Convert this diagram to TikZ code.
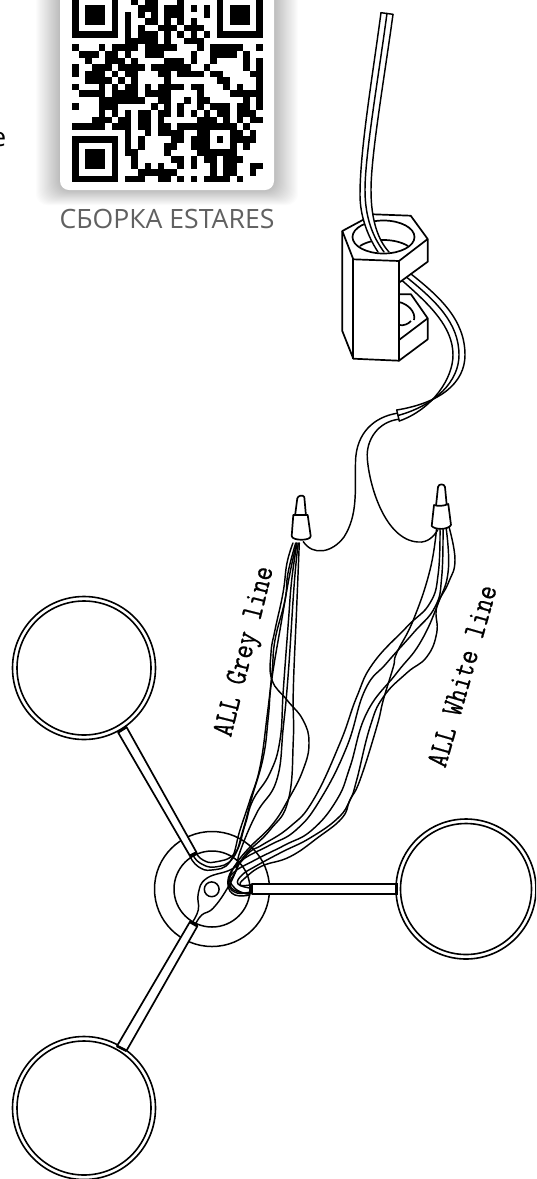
\documentclass[tikz,border=0pt]{standalone}
\usepackage{fontspec}
\setmainfont{Open Sans}
\newfontfamily\notefont[FakeStretch=0.84,FakeBold=0.6]{Latin Modern Mono}
\usetikzlibrary{calc}
\tikzset{
  wire/.style={line width=1.45pt,line join=round,line cap=round},
  body/.style={line width=1.7pt,line join=round},
  lamp/.style={line width=1.6pt,fill=white},
  note/.style={font=\notefont\fontsize{31}{31}\selectfont,inner sep=0pt}
}
\newcommand{\qrfinder}[2]{%
  \fill (72.3+6.57*#1,-8.2+6.57*#2) rectangle ++(46,46);
  \fill[white] (72.3+6.57*#1+6.57,-8.2+6.57*#2+6.57) rectangle ++(32.85,32.85);
  \fill (72.3+6.57*#1+13.14,-8.2+6.57*#2+13.14) rectangle ++(19.71,19.71);}
\newcommand{\wirepath}[1]{\draw[wire] plot[smooth,tension=.75] coordinates {#1};}
\begin{document}
\begin{tikzpicture}[x=1pt,y=-1pt]
\useasboundingbox (0,0) rectangle (536,1179);
\clip (0,0) rectangle (536,1179);
\fill[white] (0,0) rectangle (536,1179);
% card shadow
\foreach \i in {1,...,22}{
  \fill[black,opacity=.013,rounded corners=12pt] (60-\i*1.1,-20) rectangle (274+\i*1.1,190+\i*.7);
}
\fill[white,rounded corners=9pt] (60,-20) rectangle (274,190);
% QR
\qrfinder{0}{0}\qrfinder{22}{0}\qrfinder{0}{22}
\foreach \r/\cols in {
1/{9,11,12,16},
2/{10,11,12,14,15,16,18,20},
3/{8,10,12,14,15,16,20},
4/{8,11,12,14,16,18},
5/{8,10,13,14,15,17,18,19},
6/{8,10,11,12,14,16,18,20},
7/{8,9,10,11,12,14,17,18,19},
8/{0,4,6,7,8,9,11,12,13,14,15,19,21,22,23,24,25,28},
9/{1,2,3,5,6,8,11,12,13,18,21,22,23,24,26},
10/{2,5,6,7,9,14,15,16,18,21,26,28},
11/{0,3,4,5,7,8,9,10,12,13,14,15,16,17,20,26,28},
12/{0,2,3,4,6,8,9,13,14,16,17,18,19,21,22,27,28},
13/{2,3,4,5,7,9,14,22,23,28},
14/{0,4,6,8,9,11,13,14,15,16,18,19,23,25,28},
15/{1,2,3,4,6,7,8,9,11,12,13,14,19,24,25,26,27,28},
16/{4,5,6,7,8,9,10,13,14,17,19,20,26,28},
17/{0,4,5,6,12,14,16,19,21,22,23,25,26,28},
18/{4,6,8,10,11,13,14,16,18,20,22,23,25,26,27},
19/{3,4,5,7,8,10,11,13,19,20,21,23,25,27,28},
20/{0,1,2,3,4,6,7,8,10,11,13,14,16,17,18,19,20,21,22,23,24,26},
21/{8,11,13,14,15,16,19,20,24,25,27},
22/{8,10,15,16,18,19,20,22,24,25,26,27},
23/{8,10,14,15,18,19,20,24,26},
24/{8,9,14,19,20,21,22,23,24},
25/{9,15,16,18,20,21,23,24,25},
26/{9,11,13,16,18,21,23,24,27,28},
27/{10,11,12,13,14,15,21,23,24,27},
28/{8,9,10,13,14,16,18,20,21,22,23,25}}{
  \foreach \c in \cols {
    \fill (72.3+6.57*\c,-8.2+6.57*\r) rectangle ++(6.62,6.62);
  }
}
\node[anchor=center,text=black!62,inner sep=0pt,font=\fontsize{26.6}{28}\selectfont] (qrcaption) at (167,219) {СБОРКА ESTARES};
\node[anchor=base east,inner sep=0pt,font=\fontsize{26}{26}\selectfont] (cutword) at (6.5,146) {e};

% lamps and arms
\draw[lamp] (84,668) circle (71.5);
\draw[line width=1.6pt] (84,668) circle (67);
\draw[lamp] (84,1108) circle (71.5);
\draw[line width=1.6pt] (84,1108) circle (67);
\draw[lamp] (466,889) circle (70);
\draw[line width=1.6pt] (466,889) circle (65.5);
% hub
\draw[line width=1.5pt] (212,889) circle (57.5);
\draw[line width=1.5pt] (212,889) circle (38);
\draw[line width=1.5pt] (211.7,889.3) circle (7.4);
% arm tubes
\draw[body,fill=white] (118,732.3) -- (190,856) -- (196.7,852.7) -- (126.5,727) -- cycle;
\draw[body,fill=white] (117,1046) -- (190,921.7) -- (197.5,926) -- (126.5,1050.7) -- cycle;
\draw[body,fill=white] (251.7,884.3) -- (396,884.3) -- (396,894) -- (251.7,894) -- cycle;
\draw[line width=3pt] (190,856) -- (196.7,852.7);
\draw[line width=3pt] (190,921.7) -- (197.5,926);
\draw[line width=3pt] (251.7,884.3) -- (251.7,894);
\draw[line width=2.6pt] (396.5,883) -- (396.5,895);
\draw[line width=2.6pt] (118,732.3) -- (126.5,727);
\draw[line width=2.6pt] (117,1046) -- (126.5,1050.7);

% grey bundle
\wirepath{(293,543)(287,563)(283,593)(275,630)(271,653)(272,680)(287,700)(303,720)(309,743)(303,770)(288,800)(272,825)(250,847)(236.7,863)(230,877)(232,885)(240,891.7)(250,894)}
\wirepath{(295.7,543)(288,573)(285,600)(275,640)(272,673)(267,717)(260,767)(250,800)(240,830)(230,861.7)(211.7,870)(198.3,866.7)(190,856.7)}
\wirepath{(296.7,543)(290,573)(281.7,620)(271.7,680)(268.3,717)(263.3,757)(251.7,798)(243,830)(233,858)(215,867)(200,863)(193,855)}
\wirepath{(297,543)(291.7,580)(288.3,623)(283.3,690)(280,740)(270,773)(253,800)(245,825)(235,853)(215,862)(203,860)(196,853)}
\wirepath{(298.3,543)(294.3,583)(288.3,673)(283.3,727)(276.7,780)(256.7,813)(240,851.7)(236.7,868)(228.3,886.7)(213.3,908)(201.7,915)(195,925)}
\wirepath{(299.3,543)(296.7,607)(293.3,690)(293.3,740)(288.3,800)(270,830)(245,855)(235,873)(230,882)(234,890)(248,894)}
% white bundle
\wirepath{(436.7,527)(430,570)(413.3,620)(396.7,653)(393.3,667)(383.3,700)(376.7,727)(360,780)(350,800)(342,818)(318,837.5)(290,856.7)(262,866)(245,878)(240,885)(250,885)}
\wirepath{(440,527)(438.3,573)(430,603)(406.7,627)(373.3,663)(356.7,697)(340,743)(313.3,800)(290,826.7)(262,845)(250,851.7)(233.3,868.3)(206.7,878.3)(198.3,893.3)(198.3,910)(191.7,923.3)}
\wirepath{(443,527)(441.7,577)(435,607)(413.3,633)(386.7,663)(365,690)(346.7,747)(320,800)(296,830)(270,845)(245,858)(232,870)(228,885)(235,895)(250,895)}
\wirepath{(446,527)(448.3,570)(438.3,603)(420,643)(396.7,673)(366.7,713)(350,767)(336.7,800)(312,830)(285,845)(255,860)(233,873)(229,885)(237,893)(250,892)}
\wirepath{(449,527)(455,560)(448.3,583)(436.7,607)(436.7,633)(426.7,657)(406.7,673)(383.3,697)(370,727)(356.7,780)(350,800)(338,818)(310,838)(282,852)(256,866)(242,875)(238,884)(250,888)}

% wires from the sleeve to the nuts
\draw[wire] (396.7,413.3) .. controls (375,417) and (356,432) .. (355.5,462) .. controls (355,490) and (358,515) .. (344,537) .. controls (332,553) and (313,556) .. (303.3,541.7);
\draw[wire] (398.3,419.3) .. controls (378,422) and (366,440) .. (367.3,458) .. controls (369,485) and (385,540) .. (418,542) .. controls (428,543) and (434,536) .. (437.7,530);
% nuts
\draw[body,fill=white] (295,516) -- (297.3,498.3) .. controls (298,495.5) and (303,494.5) .. (304.3,497) -- (306,516);
\draw[body,fill=white] (293.3,515) -- (307.7,515) -- (310.7,536) .. controls (311,541) and (292,541) .. (291.7,536) -- cycle;
\draw[body,fill=white] (436,506) -- (438,487) .. controls (438.5,483.5) and (444.5,483.5) .. (445,487) -- (446.7,505);
\draw[body,fill=white] (434,505) .. controls (438,506.5) and (444,506) .. (448.3,504) -- (451,525) .. controls (448,530) and (435,530) .. (431.7,526) -- cycle;
% sleeve and cable
\draw[wire] (396.7,410) -- (399.3,421);
\draw[wire] (411,274) .. controls (440,297) and (465,320) .. (465,355) .. controls (465,383) and (440,403) .. (396.7,410);
\draw[wire] (406.7,277.3) .. controls (436,301) and (459,323) .. (459,355) .. controls (459,381) and (436,405) .. (398,415.5);
\draw[wire] (402.3,280.7) .. controls (430,305) and (453,327) .. (453,355) .. controls (453,378) and (433,409) .. (399.3,421);

% connector block
\draw[body,fill=white] (342.3,231) -- (373.3,214.3) -- (410.7,215.7) -- (427.7,239) -- (427.7,261.7) -- (399,282.7) -- (399,360.7) -- (353.3,358.7) -- (342.3,331) -- cycle;
\draw[body] (342.3,231) -- (353.3,259.3) -- (399,261) -- (427.7,239);
\draw[body] (353.3,259.3) -- (353.3,358.7);
\draw[body] (399,261) -- (399,282.7);
\draw[body,fill=white] (399,294.3) -- (411,294.3) -- (427.7,318.3) -- (427.7,339.3) -- (399,360.7) -- (399,340) -- cycle;
\draw[body] (399,340) -- (427.7,318.3);
\draw[body] (399,302) .. controls (408,304) and (416,312) .. (414,320);
\draw[body] (399,325) .. controls (404,326) and (408,324) .. (411,321);
\draw[body] (383.5,237) ellipse [x radius=31,y radius=16.5];
\draw[body] (360,246) .. controls (372,238) and (395,238) .. (408,246);
% top cable
\fill[white] (381,12.7) .. controls (372,80) and (360,150) .. (360,195) .. controls (360,215) and (367,235) .. (378,252) -- (389,252) .. controls (378,240) and (371,220) .. (371,190) .. controls (371,155) and (384,80) .. (393,14.3) -- cycle;
\draw[wire] (381,12.7) .. controls (372,80) and (360,150) .. (360,195) .. controls (360,215) and (367,235) .. (378,252);
\draw[wire] (387,13.3) .. controls (378,80) and (365,155) .. (365,190) .. controls (365,218) and (373,237) .. (384,252);
\draw[wire] (393,14.3) .. controls (384,80) and (371,155) .. (371,190) .. controls (371,220) and (378,240) .. (389,252);
\draw[wire] (381,12.7) -- (393,14.3);

% labels
\node[note,rotate=76] (greylabel) at (246,652) {ALL Grey line};
\node[note,rotate=74] (whitelabel) at (462,676) {ALL White line};
\end{tikzpicture}
\end{document}
